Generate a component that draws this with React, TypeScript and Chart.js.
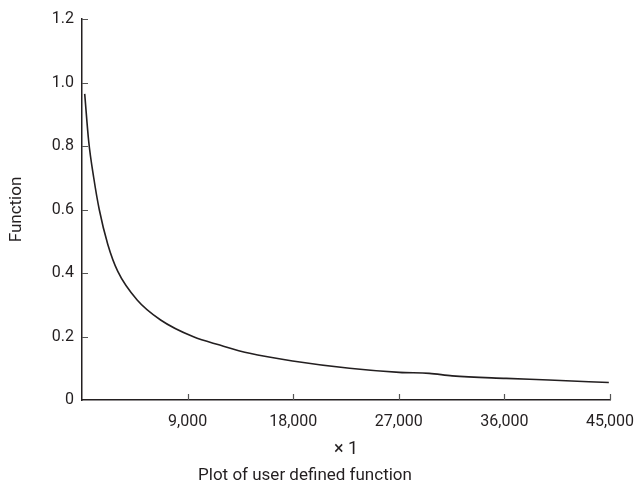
import React, { useEffect, useRef } from "react";
import { Chart, registerables } from "chart.js";

Chart.register(...registerables);

const xValues = [230, 570, 1000, 1470, 2200, 3050, 4700, 6700, 9500, 11740, 14290, 17950, 22800, 27050, 29600, 31550, 36150, 39800, 44900];
const yValues = [0.964, 0.815, 0.7, 0.6, 0.49, 0.405, 0.315, 0.252, 0.199, 0.173, 0.147, 0.123, 0.1, 0.087, 0.084, 0.076, 0.068, 0.063, 0.055];
const xTickStep = 9000;
const xMax = 45000;
const yTickStep = 0.2;
const yMax = 1.2;
const yAxisTitle = "Function";
const xAxisTitle = "\u00d7 1";
const chartTitle = "Plot of user defined function";

const INK = "#231f20";
const FONT = "Roboto";

const inwardTicks = {
  id: "inwardTicks",
  afterDraw(chart: any) {
    const { ctx, scales, chartArea } = chart;
    const len = 6;
    ctx.save();
    ctx.strokeStyle = "#555";
    ctx.lineWidth = 1.2;
    ctx.beginPath();
    scales.x.ticks.forEach((t: any) => {
      if (t.value === 0) return;
      const px = Math.round(scales.x.getPixelForValue(t.value)) + 0.5;
      ctx.moveTo(px, chartArea.bottom);
      ctx.lineTo(px, chartArea.bottom - len);
    });
    scales.y.ticks.forEach((t: any) => {
      if (t.value === 0) return;
      const py = Math.round(scales.y.getPixelForValue(t.value)) + 0.5;
      ctx.moveTo(chartArea.left, py);
      ctx.lineTo(chartArea.left + len, py);
    });
    ctx.stroke();
    ctx.restore();
  },
};

export default function App() {
  const ref = useRef<HTMLCanvasElement | null>(null);
  useEffect(() => {
    document.body.style.margin = "0";
    const canvas = ref.current;
    if (!canvas) return;
    const chart = new Chart(canvas, {
      type: "line",
      data: {
        datasets: [
          {
            data: xValues.map((x, i) => ({ x, y: yValues[i] })),
            borderColor: INK,
            borderWidth: 1.6,
            pointRadius: 0,
            fill: false,
            cubicInterpolationMode: "monotone",
          },
        ],
      },
      options: {
        responsive: false,
        animation: false,
        layout: { padding: { top: 19, right: 24, left: 0, bottom: 0 } },
        plugins: {
          legend: { display: false },
          tooltip: { enabled: false },
          title: {
            display: true,
            position: "bottom",
            text: chartTitle,
            color: INK,
            font: { family: FONT, size: 17, weight: "normal" },
            padding: { top: 0, bottom: 0 },
          },
        },
        scales: {
          x: {
            type: "linear",
            min: 0,
            max: xMax,
            grid: { display: false, drawTicks: false },
            border: { display: true, color: INK, width: 1.5 },
            ticks: {
              stepSize: xTickStep,
              color: INK,
              padding: 12,
              font: { family: FONT, size: 16 },
              maxRotation: 0,
              callback: (v: any) => (v === 0 ? "" : Number(v).toLocaleString("en-US")),
            },
            title: {
              display: true,
              text: xAxisTitle,
              color: INK,
              font: { family: FONT, size: 18 },
              padding: { top: 0, bottom: 5 },
            },
            afterFit: (s: any) => {
              s.height = 65.6;
              s.paddingLeft = 0;
              s.paddingRight = 0;
            },
          },
          y: {
            type: "linear",
            min: 0,
            max: yMax,
            grid: { display: false, drawTicks: false },
            border: { display: true, color: INK, width: 1.5 },
            ticks: {
              stepSize: yTickStep,
              color: INK,
              padding: 8,
              font: { family: FONT, size: 16 },
              callback: (v: any) => (Number(v) === 0 ? "0" : Number(v).toFixed(1)),
            },
            title: {
              display: true,
              text: yAxisTitle,
              color: INK,
              font: { family: FONT, size: 17 },
              padding: { top: 7, bottom: 0 },
            },
            afterFit: (s: any) => {
              s.width = 82;
              s.paddingTop = 0;
              s.paddingBottom = 0;
            },
          },
        },
      },
      plugins: [inwardTicks],
    } as any);
    return () => chart.destroy();
  }, []);
  return <canvas ref={ref} width={634} height={486} />;
}
